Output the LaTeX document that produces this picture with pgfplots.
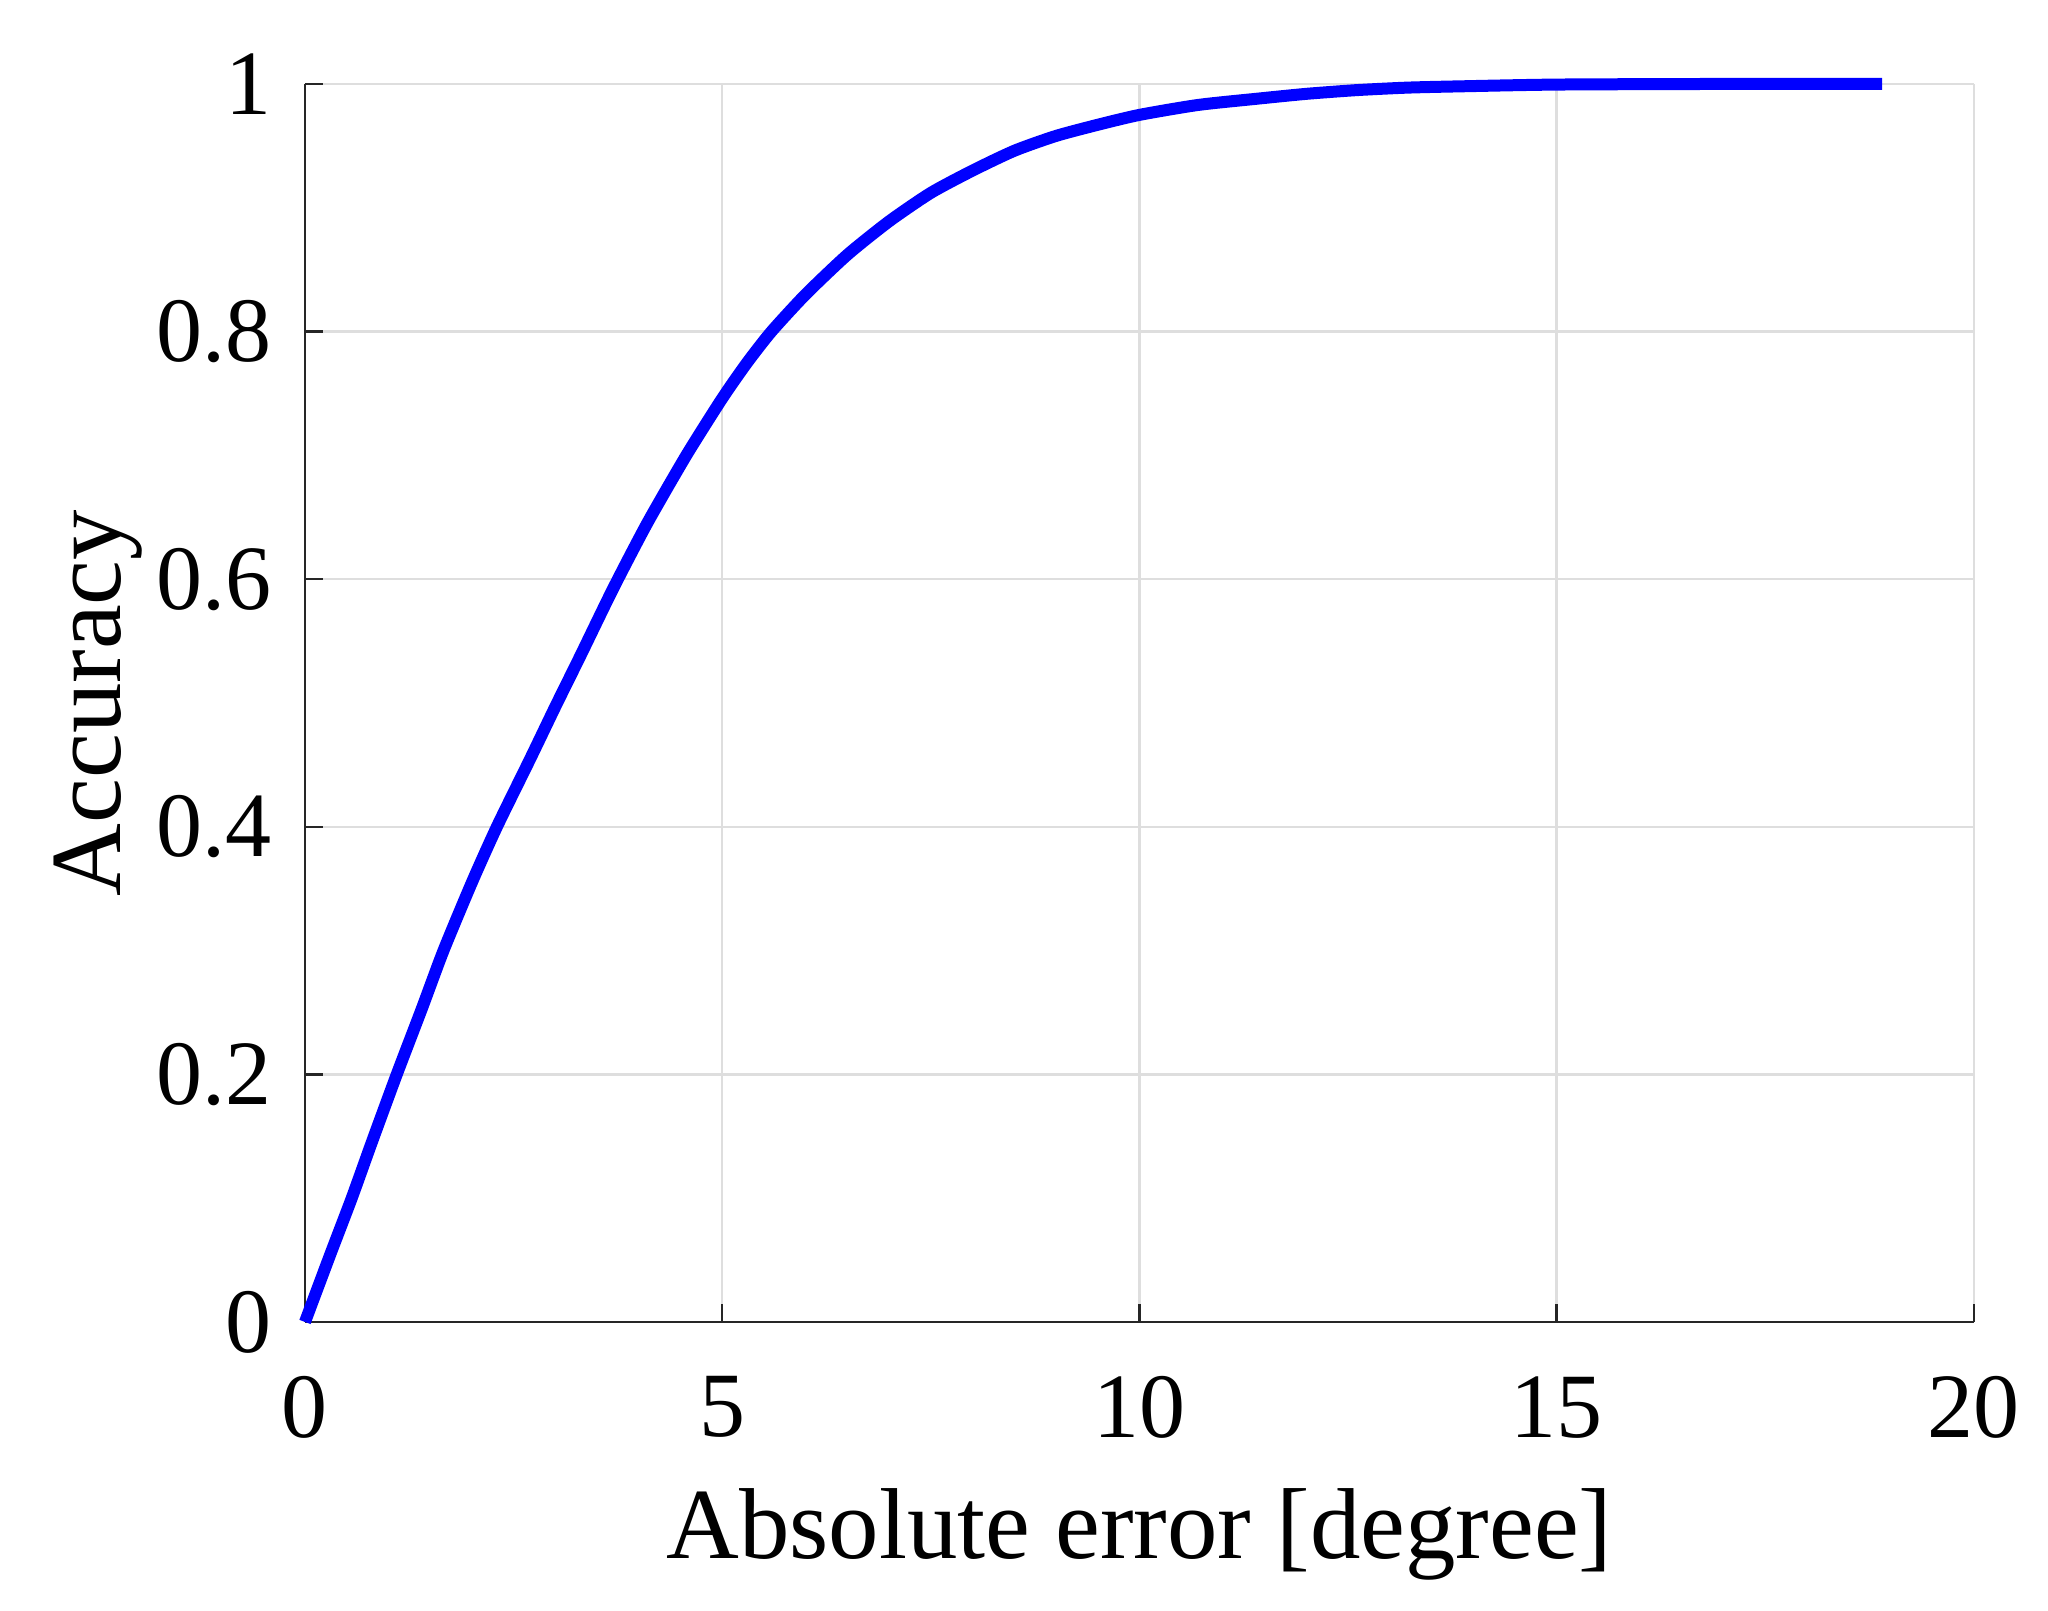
\documentclass[border=0pt]{standalone}
\usepackage{fontspec}
\setmainfont{Liberation Serif}
\usepackage{pgfplots}
\pgfplotsset{compat=1.18}

\begin{document}
\begin{tikzpicture}
\useasboundingbox (0,0) rectangle (256bp,201.375bp);
\begin{axis}[
  at={(38.125bp,36.125bp)}, anchor=south west,
  scale only axis, width=208.6bp, height=154.75bp,
  xmin=0, xmax=20, ymin=0, ymax=1,
  xtick={0,5,10,15,20}, ytick={0,0.2,0.4,0.6,0.8,1},
  axis lines*=left,
  axis line style={black!85, line width=0.3bp},
  tick align=inside, major tick length=2.2bp,
  tick style={black!85, line width=0.3bp},
  grid=major, grid style={black!13, line width=0.3bp},
  /pgf/number format/assume math mode=true,
  ticklabel style={font=\fontsize{11.5bp}{13bp}\selectfont},
  xticklabel style={inner sep=0pt, anchor=north, yshift=-6.6bp},
  yticklabel style={inner sep=0pt, anchor=east, xshift=-4bp},
  every axis x label/.style={at={(axis description cs:0.5,0)}, anchor=base, yshift=-29.6bp, font=\fontsize{12.6bp}{14bp}\selectfont},
  every axis y label/.style={at={(axis description cs:0,0.5)}, xshift=-23.1bp, rotate=90, anchor=base, font=\fontsize{12.6bp}{14bp}\selectfont},
  xlabel={Absolute error [degree]},
  ylabel={Accuracy},
  clip=false,
]
\addplot[blue, line width=1.5bp, line join=round, smooth, tension=0.4] coordinates {
  (0,0) (0.30,0.054) (0.56,0.100) (0.80,0.145) (1.10,0.200) (1.40,0.253)
  (1.66,0.300) (2.00,0.355) (2.30,0.400) (2.70,0.455) (3.00,0.497)
  (3.30,0.538) (3.69,0.592) (4.10,0.645) (4.57,0.700) (5.00,0.746)
  (5.30,0.775) (5.59,0.800) (6.00,0.830) (6.50,0.862) (7.00,0.889)
  (7.50,0.912) (8.00,0.930) (8.50,0.946) (9.00,0.958) (9.50,0.967)
  (10.00,0.975) (10.70,0.983) (11.40,0.988) (12.00,0.992) (12.60,0.995)
  (13.20,0.997) (13.80,0.998) (15.00,0.9995) (17.00,1.0) (18.90,1.0)
};
\end{axis}
\end{tikzpicture}
\end{document}
